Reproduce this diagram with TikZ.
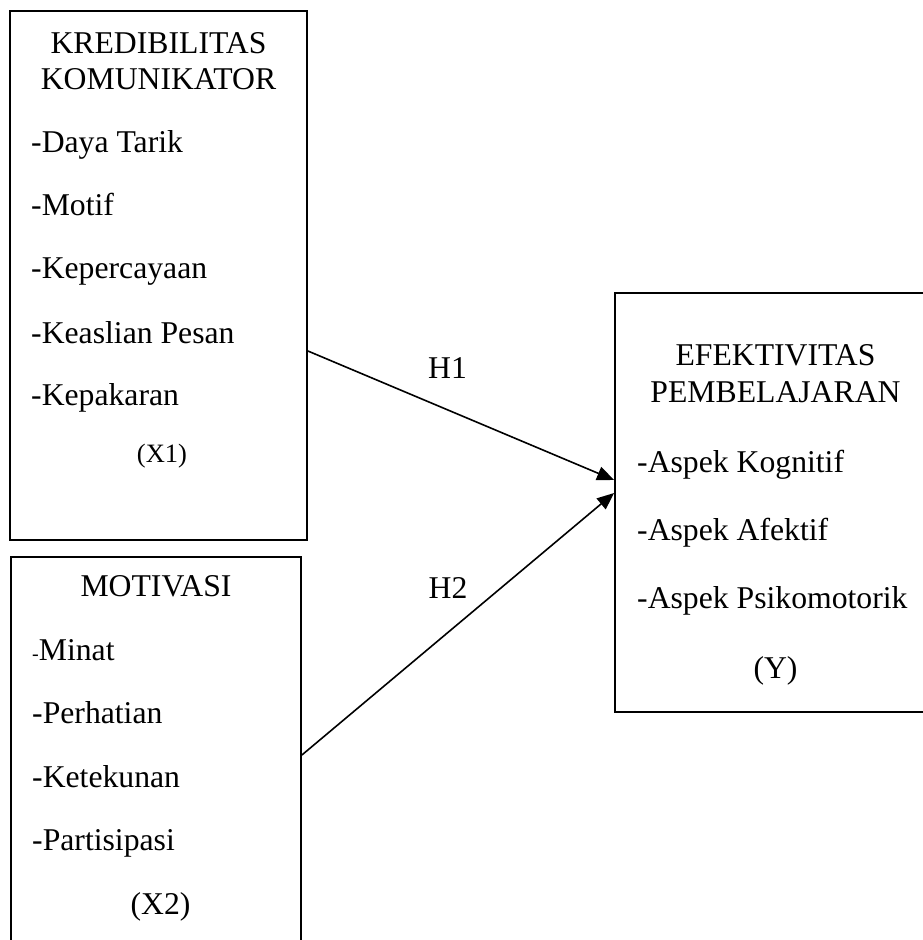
\documentclass[tikz,border=0pt]{standalone}
\usepackage{fontspec}
\setmainfont{Liberation Serif}
\usetikzlibrary{arrows.meta}

\begin{document}
\begin{tikzpicture}[x=1pt,y=1pt,yscale=-1,
    box/.style={draw, line width=1.8pt, inner sep=0pt},
    item/.style={anchor=base west, inner sep=0pt, font=\fontsize{31.7}{38}\selectfont},
    ttl/.style={anchor=base, inner sep=0pt, font=\fontsize{31.7}{38}\selectfont},
    arr/.style={-{Triangle[length=17pt,width=14pt]}, line width=1.6pt}]
    \clip (0,0) rectangle (923,940);
    % boxes
    \node[box, minimum width=297pt, minimum height=529pt] (kred) at (158.5,275.5) {};
    \node[box, minimum width=290pt, minimum height=423pt] (mot) at (156,768.5) {};
    \node[box, minimum width=345pt, minimum height=419pt] (efk) at (787.5,502.5) {};
    % X1
    \node[ttl] (kredA) at (158.5,53) {KREDIBILITAS};
    \node[ttl] (kredB) at (158.5,89) {KOMUNIKATOR};
    \node[item] (daya) at (31,152) {-Daya Tarik};
    \node[item] (motif) at (31,215) {-Motif};
    \node[item] (percaya) at (31,278) {-Kepercayaan};
    \node[item] (pesan) at (31,343) {-Keaslian Pesan};
    \node[item] (pakar) at (31,405) {-Kepakaran};
    \node[ttl, font=\fontsize{26.5}{32}\selectfont] (xa) at (162,462) {(X1)};
    % X2
    \node[ttl] (motA) at (156,596) {MOTIVASI};
    \node[item] (minat) at (32,660) {{\fontsize{20}{24}\selectfont-}Minat};
    \node[item] (perhatian) at (32,723) {-Perhatian};
    \node[item] (tekun) at (32,787) {-Ketekunan};
    \node[item] (partisipasi) at (32,850) {-Partisipasi};
    \node[ttl] (xb) at (160.5,914) {(X2)};
    % Y
    \node[ttl] (efkA) at (775.5,365) {EFEKTIVITAS};
    \node[ttl] (efkB) at (775.5,402) {PEMBELAJARAN};
    \node[item] (kognitif) at (637,472) {-Aspek Kognitif};
    \node[item] (afektif) at (637,540) {-Aspek Afektif};
    \node[item] (psiko) at (637,608) {-Aspek Psikomotorik};
    \node[ttl] (y) at (775.5,678) {(Y)};
    % hypotheses
    \draw[arr] (kred.east |- 0,351) -- (efk.west |- 0,480);
    \draw[arr] (mot.east |- 0,755) -- (efk.west |- 0,493);
    \node[ttl] (h1) at (447.5,378) {H1};
    \node[ttl] (h2) at (448,598) {H2};
\end{tikzpicture}
\end{document}
